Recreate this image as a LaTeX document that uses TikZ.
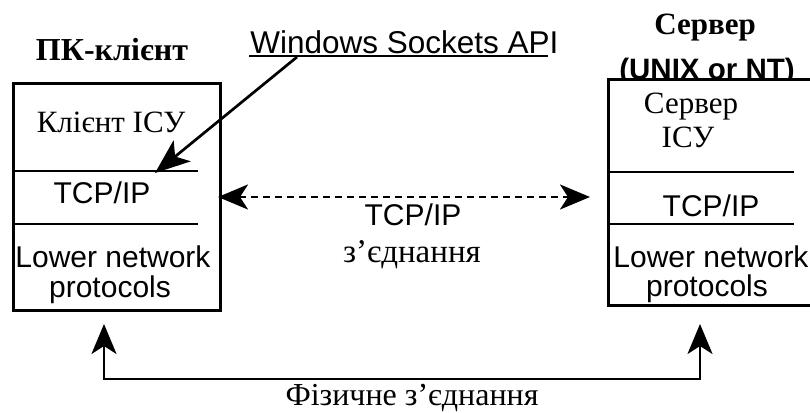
\documentclass[tikz,border=0pt]{standalone}
\usepackage{fontspec}
\setmainfont{Liberation Serif}
\setsansfont{Liberation Sans}
\usetikzlibrary{arrows.meta}
\begin{document}
\begin{tikzpicture}[x=1pt,y=-1pt,
  line width=2.7pt,
  serif/.style={font=\fontsize{31}{34}\selectfont, inner sep=0pt, anchor=base},
  serifb/.style={font=\fontsize{31}{34}\selectfont\bfseries, inner sep=0pt, anchor=base},
  sans/.style={font=\fontsize{30}{34}\selectfont\sffamily, inner sep=0pt, anchor=base},
  sansb/.style={font=\fontsize{29.5}{34}\selectfont\sffamily\bfseries, inner sep=0pt, anchor=base},
  stackbox/.style={draw, fill=white, inner sep=0pt, anchor=north west},
  conn/.style={{Stealth[length=30pt,width=25pt,inset=8pt]}-{Stealth[length=30pt,width=25pt,inset=8pt]}, dash pattern=on 7pt off 5pt},
  phys/.style={{Stealth[length=30pt,width=25pt,inset=8pt]}-{Stealth[length=30pt,width=25pt,inset=8pt]}}
]
\useasboundingbox (0,0) rectangle (810,412);

% titles
\node[serifb, font=\fontsize{32}{34}\selectfont\bfseries] (pc) at (112,60) {ПК-клієнт};
\node[serifb] (srv) at (705,35) {Сервер};
\node[sansb] (os) at (707,79.5) {(UNIX or NT)};

% boxes
\node[stackbox, minimum width=207pt, minimum height=227pt] (lbox) at (12,82) {};
\node[stackbox, minimum width=210pt, minimum height=226pt] (rbox) at (607,78) {};

% dividers
\coordinate (ld1a) at (12,171); \coordinate (ld1b) at (198,171);
\coordinate (ld2a) at (12,224); \coordinate (ld2b) at (198,224);
\coordinate (rd1a) at (607,172); \coordinate (rd1b) at (794,172);
\coordinate (rd2a) at (607,224); \coordinate (rd2b) at (794,224);
\draw (ld1a) -- (ld1b);
\draw (ld2a) -- (ld2b);
\draw (rd1a) -- (rd1b);
\draw (rd2a) -- (rd2b);

% left box texts
\node[serif] (lapp) at (111,132) {Клієнт ІСУ};
\node[sans] (ltcp) at (102,203) {TCP/IP};
\node[sans] (llow1) at (113,267) {Lower network};
\node[sans] (llow2) at (110,297) {protocols};

% right box texts
\node[serif] (rapp1) at (691,113) {Сервер};
\node[serif] (rapp2) at (688,147) {ІСУ};
\node[sans] (rtcp) at (711,216) {TCP/IP};
\node[sans] (rlow1) at (711,267) {Lower network};
\node[sans] (rlow2) at (707,296) {protocols};

% Windows Sockets API
\node[sans, font=\fontsize{31.5}{34}\selectfont\sffamily, anchor=base west] (wsa) at (249,53) {Windows Sockets API};
\coordinate (ul1) at (249,56);
\coordinate (ul2) at (548,56);
\draw[line width=2.2pt] (ul1) -- (ul2);
\coordinate (wsstart) at (297,57);
\coordinate (wstip) at (155,173);
\draw[-{Stealth[length=35pt,width=27pt,inset=9pt]}] (wsstart) -- (wstip);

% TCP/IP connection
\coordinate (cl) at (218,197);
\coordinate (cr) at (590,197);
\draw[conn] (cl) -- (cr);
\node[sans] (mtcp) at (413,225) {TCP/IP};
\node[serif, font=\fontsize{33}{34}\selectfont] (mcon) at (412,262) {з’єднання};

% physical connection
\coordinate (pl) at (104,324);
\coordinate (pr) at (700,324);
\draw[phys, line width=2.5pt] (pl) -- (104,379) -- (700,379) -- (pr);
\node[serif, font=\fontsize{32}{34}\selectfont] (phy) at (412,405) {Фізичне з’єднання};
\end{tikzpicture}
\end{document}
